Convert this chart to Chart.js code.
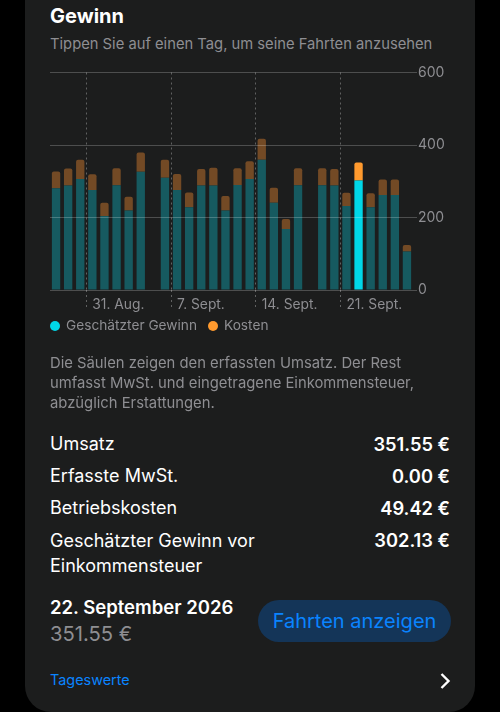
<!DOCTYPE html>
<html lang="de">
<head>
<meta charset="utf-8">
<title>Gewinn</title>
<script src="https://cdn.jsdelivr.net/npm/chart.js@4"></script>
<style>
  html, body { margin: 0; padding: 0; background: #000; }
  body { width: 500px; height: 712px; position: relative; overflow: hidden; font-family: Inter, "Noto Sans", sans-serif; }
  #karte { position: absolute; left: 25px; top: -40px; width: 450px; height: 752px; background: #1c1d1d; border-radius: 26px; }
  #grafik-box { position: absolute; left: 50px; top: 60px; width: 400px; height: 260px; }
  .t { position: absolute; white-space: nowrap; color: #fff; line-height: 1; }
  .grau { color: #8e8e92; }
  .zeile { font-size: 18px; }
  .wert { font-size: 18.3px; font-weight: 600; right: 50px; }
  .punkt { position: absolute; width: 10px; height: 10px; border-radius: 50%; top: 321px; }
  #knopf { position: absolute; left: 258px; top: 600px; width: 193px; height: 42px; border-radius: 21px; background: #143558; color: #0a84ff; font-size: 20px; line-height: 43px; text-align: center; }
</style>
</head>
<body>
<div id="karte"></div>

<div class="t" style="left:50px;top:6px;font-size:20px;font-weight:700">Gewinn</div>
<div class="t grau" style="left:50px;top:37px;font-size:14.75px">Tippen Sie auf einen Tag, um seine Fahrten anzusehen</div>

<div id="grafik-box"><canvas id="grafik"></canvas></div>

<div class="punkt" style="left:50px;background:#00d7e8"></div>
<div class="t grau" style="left:66px;top:319px;font-size:13.7px">Geschätzter Gewinn</div>
<div class="punkt" style="left:208px;background:#ff9a2e"></div>
<div class="t grau" style="left:224px;top:319px;font-size:13.7px">Kosten</div>

<div class="t grau" style="left:50px;top:356px;font-size:14.8px">Die Säulen zeigen den erfassten Umsatz. Der Rest</div>
<div class="t grau" style="left:50px;top:376px;font-size:14.8px">umfasst MwSt. und eingetragene Einkommensteuer,</div>
<div class="t grau" style="left:50px;top:396px;font-size:14.8px">abzüglich Erstattungen.</div>

<div class="t zeile" style="left:50px;top:435px">Umsatz</div>
<div class="t wert" style="top:435px">351.55 €</div>
<div class="t zeile" style="left:50px;top:467px">Erfasste MwSt.</div>
<div class="t wert" style="top:467px">0.00 €</div>
<div class="t zeile" style="left:50px;top:499px">Betriebskosten</div>
<div class="t wert" style="top:499px">49.42 €</div>
<div class="t zeile" style="left:50px;top:532px">Geschätzter Gewinn vor</div>
<div class="t zeile" style="left:50px;top:557px">Einkommensteuer</div>
<div class="t wert" style="top:531px">302.13 €</div>

<div class="t" style="left:50px;top:598px;font-size:18.5px;font-weight:600">22. September 2026</div>
<div class="t grau" style="left:50px;top:624px;font-size:20.2px">351.55 €</div>
<div id="knopf">Fahrten anzeigen</div>

<div class="t" style="left:50px;top:673px;font-size:14.4px;color:#0a84ff">Tageswerte</div>
<svg style="position:absolute;left:438px;top:672px" width="14" height="18" viewBox="0 0 14 18"><path d="M3.5 2 L10.5 9 L3.5 16" fill="none" stroke="#fff" stroke-width="2.4"/></svg>

<script>
const tage = ['28. Aug.', '29. Aug.', '30. Aug.', '31. Aug.', '1. Sept.', '2. Sept.', '3. Sept.', '4. Sept.', '5. Sept.', '6. Sept.',
  '7. Sept.', '8. Sept.', '9. Sept.', '10. Sept.', '11. Sept.', '12. Sept.', '13. Sept.', '14. Sept.', '15. Sept.', '16. Sept.',
  '17. Sept.', '18. Sept.', '19. Sept.', '20. Sept.', '21. Sept.', '22. Sept.', '23. Sept.', '24. Sept.', '25. Sept.', '26. Sept.'];
const wochenTicks = ['31. Aug.', '7. Sept.', '14. Sept.', '21. Sept.'];
const gewinn = [281, 288, 306, 276, 204, 289, 219, 326, 0, 310, 276, 228, 288, 288, 219, 290, 306, 359, 241, 168, 289, 0, 289, 288, 232, 302.13, 228, 262, 262, 106];
const kosten = [46, 47, 53, 43, 37, 47, 38, 53, 0, 49, 44, 41, 46, 49, 40, 46, 49, 58, 41, 28, 47, 0, 47, 46, 36, 49.42, 39, 43, 43, 18];
const gewaehlt = '22. Sept.';

const linie = 'rgba(255,255,255,0.22)';
const textGrau = '#8e8e92';

new Chart(document.getElementById('grafik'), {
  type: 'bar',
  data: {
    labels: tage,
    datasets: [
      {
        label: 'Geschätzter Gewinn',
        data: gewinn,
        backgroundColor: tage.map(t => t === gewaehlt ? '#00d7e8' : '#165a60')
      },
      {
        label: 'Kosten',
        data: kosten,
        backgroundColor: tage.map(t => t === gewaehlt ? '#ff9a2e' : '#734a25'),
        borderRadius: { topLeft: 2, topRight: 2, bottomLeft: 0, bottomRight: 0 },
        borderSkipped: false
      }
    ]
  },
  options: {
    responsive: true,
    maintainAspectRatio: false,
    animation: false,
    layout: { padding: { top: 12.5, left: 0, right: 0, bottom: 0 } },
    plugins: { legend: { display: false }, tooltip: { enabled: false } },
    datasets: { bar: { categoryPercentage: 1, barPercentage: 0.69 } },
    scales: {
      x: {
        stacked: true,
        offset: true,
        afterFit: s => { s.height = 30; },
        grid: {
          offset: true,
          drawOnChartArea: true,
          tickLength: 20,
          tickBorderDash: [2, 3],
          color: ctx => wochenTicks.includes(tage[ctx.index]) ? 'rgba(255,255,255,0.3)' : 'transparent'
        },
        border: { display: false, dash: [2, 3] },
        ticks: {
          autoSkip: false,
          maxRotation: 0,
          align: 'start',
          padding: -13,
          color: textGrau,
          font: { family: 'Inter', size: 13.8 },
          callback: function (v) {
            const t = this.getLabelForValue(v);
            return wochenTicks.includes(t) ? t : '';
          }
        }
      },
      y: {
        stacked: true,
        position: 'right',
        min: 0,
        max: 600,
        afterFit: s => { s.width = 37; },
        grid: { color: linie, z: 1, tickLength: 4 },
        border: { display: false },
        ticks: {
          stepSize: 200,
          padding: 1,
          color: textGrau,
          font: { family: 'Inter', size: 14 }
        }
      }
    }
  }
});
</script>
</body>
</html>
